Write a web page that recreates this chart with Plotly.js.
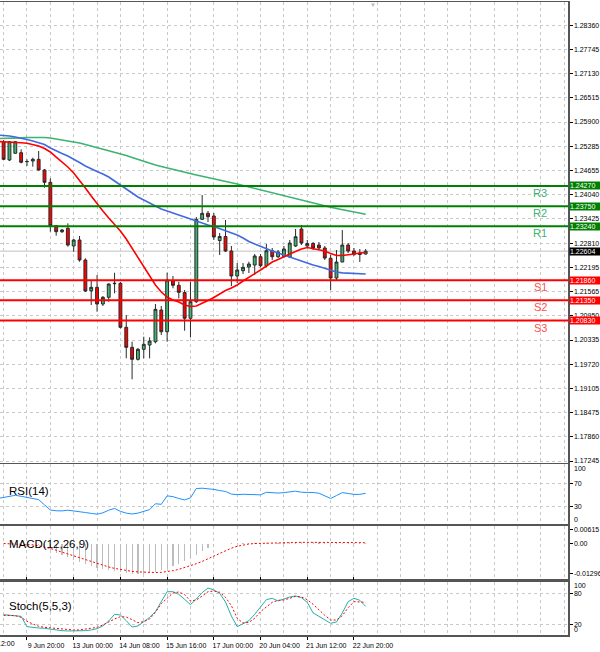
<!DOCTYPE html>
<html>
<head>
<meta charset="utf-8">
<script src="https://cdn.plot.ly/plotly-3.0.1.min.js"></script>
<style>html,body{margin:0;padding:0;background:#fff;}#chart{width:600px;height:652px;}</style>
</head>
<body>
<div id="chart"></div>
<script>
// ---------- DATA ----------
// candle index 0..62 (H4 bars)
const openP  = [1.25398,1.24931,1.25102,1.25117,1.24887,1.24905,1.24948,1.24675,1.24361,1.23253,1.23100,1.23187,1.22735,1.22888,1.22377,1.21593,1.21680,1.21254,1.21425,1.21772,1.21782,1.20659,1.20148,1.19842,1.20097,1.20207,1.20291,1.21101,1.20546,1.21849,1.21731,1.21547,1.20889,1.21312,1.23416,1.23570,1.23501,1.22875,1.22977,1.22607,1.21969,1.22104,1.22198,1.22250,1.22461,1.22232,1.22615,1.22461,1.22467,1.22454,1.22735,1.23169,1.22735,1.22799,1.22760,1.22684,1.22421,1.21918,1.22326,1.22760,1.22607,1.22556,1.22530];
const highP  = [1.25441,1.25416,1.25416,1.25204,1.24948,1.24989,1.25160,1.24700,1.24463,1.23271,1.23169,1.23314,1.22913,1.22990,1.22421,1.21867,1.21994,1.21458,1.21782,1.22053,1.21815,1.20973,1.20291,1.20130,1.20419,1.20403,1.21254,1.21203,1.22053,1.21969,1.21823,1.21611,1.21823,1.23475,1.24037,1.23628,1.23577,1.23067,1.23399,1.22735,1.22301,1.22301,1.22334,1.22530,1.22530,1.22786,1.22684,1.22633,1.22735,1.22888,1.23169,1.23271,1.22888,1.22837,1.22837,1.22735,1.22505,1.22633,1.23143,1.22811,1.22684,1.22658,1.22658];
const lowP   = [1.24931,1.24905,1.25097,1.24846,1.24777,1.24760,1.24657,1.24223,1.23100,1.22998,1.23067,1.22717,1.22589,1.22334,1.21560,1.21228,1.21057,1.21203,1.21312,1.21527,1.20628,1.19867,1.19331,1.19811,1.19867,1.19867,1.20250,1.20462,1.20291,1.21655,1.21399,1.20572,1.20403,1.21279,1.23399,1.23348,1.22888,1.22505,1.22581,1.21713,1.21790,1.22020,1.22045,1.21994,1.22191,1.22191,1.22377,1.22428,1.22428,1.22428,1.22709,1.22760,1.22684,1.22633,1.22633,1.22377,1.21611,1.21867,1.22326,1.22556,1.22479,1.22326,1.22518];
const closeP = [1.24948,1.25398,1.25398,1.24872,1.24892,1.24948,1.24675,1.24361,1.23253,1.23100,1.23143,1.22760,1.22888,1.22377,1.21586,1.21680,1.21254,1.21425,1.21764,1.21782,1.20659,1.20148,1.19842,1.20097,1.20225,1.20309,1.21118,1.20546,1.21867,1.21731,1.21552,1.20889,1.21312,1.23416,1.23570,1.23483,1.22964,1.22977,1.22607,1.21969,1.22122,1.22191,1.22275,1.22479,1.22232,1.22615,1.22461,1.22581,1.22658,1.22811,1.22972,1.22811,1.22799,1.22684,1.22684,1.22428,1.21918,1.22326,1.22760,1.22607,1.22523,1.22518,1.22604];

// moving averages, index -1..62
const maFast = [1.25403,1.25398,1.25390,1.25383,1.25372,1.25357,1.25326,1.25288,1.25224,1.25135,1.25007,1.24880,1.24752,1.24599,1.24420,1.24216,1.24011,1.23807,1.23628,1.23450,1.23296,1.23118,1.22913,1.22684,1.22454,1.22224,1.21969,1.21739,1.21560,1.21432,1.21356,1.21305,1.21228,1.21190,1.21203,1.21266,1.21343,1.21420,1.21509,1.21598,1.21662,1.21739,1.21841,1.21930,1.22020,1.22122,1.22224,1.22326,1.22390,1.22467,1.22530,1.22594,1.22658,1.22696,1.22671,1.22645,1.22607,1.22543,1.22492,1.22492,1.22505,1.22530,1.22556,1.22569];
const maMid  = [1.25569,1.25561,1.25543,1.25518,1.25492,1.25454,1.25416,1.25377,1.25326,1.25237,1.25160,1.25097,1.25033,1.24956,1.24867,1.24777,1.24701,1.24637,1.24573,1.24497,1.24394,1.24292,1.24177,1.24075,1.23986,1.23909,1.23833,1.23756,1.23679,1.23628,1.23577,1.23526,1.23462,1.23411,1.23373,1.23322,1.23271,1.23233,1.23181,1.23130,1.23067,1.23016,1.22939,1.22850,1.22786,1.22722,1.22658,1.22607,1.22556,1.22505,1.22441,1.22390,1.22352,1.22301,1.22250,1.22211,1.22160,1.22109,1.22071,1.22050,1.22040,1.22032,1.22025,1.22020];
const maSlow = [1.25480,1.25480,1.25485,1.25492,1.25497,1.25505,1.25510,1.25510,1.25505,1.25492,1.25467,1.25441,1.25428,1.25403,1.25365,1.25326,1.25288,1.25250,1.25211,1.25173,1.25135,1.25097,1.25045,1.24994,1.24943,1.24892,1.24846,1.24803,1.24765,1.24726,1.24688,1.24650,1.24611,1.24581,1.24548,1.24514,1.24484,1.24451,1.24420,1.24382,1.24348,1.24318,1.24279,1.24241,1.24203,1.24165,1.24126,1.24088,1.24050,1.24011,1.23973,1.23935,1.23902,1.23866,1.23833,1.23794,1.23756,1.23723,1.23692,1.23659,1.23628,1.23595,1.23570,1.23544];

// RSI(14), index -1..62
const rsi = [44,46,48.5,49.4,47.7,46,44.5,42,33,24.3,23,22.8,24,23,21.6,20,18.5,17.2,19.5,24,27,22,19,17.5,19,22,25,35,34,48.5,47.1,44,41.5,45,61,61.5,61,59.5,57.5,56,51.5,50.5,51.2,51,50.5,50.2,54.6,53.5,53.2,54,55,56.5,54.6,54.6,54.2,53,48,44,49,54,52.5,51,51,52.9];

// MACD(12,26,9), index 0..62
const macdMain = [-0.0002,-0.0003,-0.0003,-0.0004,-0.0004,-0.0005,-0.0008,-0.0014,-0.0027,-0.0040,-0.0051,-0.0060,-0.0071,-0.0080,-0.0090,-0.0098,-0.0105,-0.0111,-0.0115,-0.0118,-0.0122,-0.0126,-0.0129,-0.012968,-0.0129,-0.01275,-0.0122,-0.0114,-0.0105,-0.0097,-0.0088,-0.0077,-0.0064,-0.0048,-0.0034,-0.0021,-0.0010,-0.0004,-0.0001,0.0001,0.0002,0.0002,0.0003,0.0003,0.0003,0.0004,0.0004,0.0004,0.0005,0.0005,0.0005,0.0006,0.0006,0.0005,0.0005,0.0004,0.0003,0.0003,0.0004,0.0004,0.0003,0.0003,0.0003];
const macdSignal = [0.0000,-0.0001,-0.0002,-0.0003,-0.0004,-0.0006,-0.0010,-0.0015,-0.0021,-0.0029,-0.0037,-0.0046,-0.0055,-0.0063,-0.0071,-0.0079,-0.0087,-0.0094,-0.0101,-0.0107,-0.0112,-0.0117,-0.0120,-0.0122,-0.0124,-0.0125,-0.0125,-0.0124,-0.0121,-0.0117,-0.0111,-0.0104,-0.0096,-0.0087,-0.0077,-0.0066,-0.0054,-0.0041,-0.0030,-0.0020,-0.0012,-0.0006,-0.0002,0.0000,0.0001,0.0002,0.0003,0.0003,0.0004,0.0004,0.0005,0.0005,0.0005,0.0005,0.0006,0.0006,0.0006,0.0007,0.0006,0.0006,0.0005,0.0004,0.0003];

// Stoch(5,5,3), index 0..62
const stochMain = [38.5,37.6,36.6,35.3,15.3,13.4,12.8,12.1,10.2,8.9,7.6,7,7,7,7.6,8.9,11.5,16.6,26.3,39.2,37.9,26.9,14.7,16.6,25,33.4,44.4,63.7,83,83,77.9,68.2,57.9,68.9,81.1,90.1,86.3,79.8,63,36,15.3,21.1,26.9,39.2,54,67.6,70.2,65,68.9,72.7,74.7,71.4,62.4,41.8,35.3,28.2,21.8,24.4,41.8,63.7,70.2,66.3,54.7];
const stochSignal = [37.3,36.9,36.6,33.4,25.7,20.5,16,14.1,12.8,11.5,10.2,8.9,8.9,8.9,10.2,11.5,14.1,18.6,25,30.2,34.7,34,28.9,23.1,25,30.2,43.1,59.8,70.2,80.5,82.4,77.2,65,66.9,74.7,83,84.3,81.8,72.1,56,31.5,22.4,23.7,31.5,44.4,54,62.4,66.3,66.9,70.2,74,72.7,67.6,58.5,46.9,37.3,28.2,28.2,36.6,52.1,63.7,63.7,62.4];

// levels
const levelNames  = ['R3','R2','R1','S1','S2','S3'];
const levelValues = [1.24270,1.23750,1.23240,1.21860,1.21350,1.20830];
const lastPrice = 1.22604;

// axis ticks
const priceTicks = [1.28360,1.27745,1.27130,1.26515,1.25900,1.25285,1.24655,1.24040,1.23425,1.22810,1.22195,1.21565,1.20950,1.20335,1.19720,1.19105,1.18475,1.17860,1.17245];
const timeTickIdx = [4,12,20,28,36,44,52,60];
const timeTickLabels = ['9 Jun 20:00','13 Jun 00:00','14 Jun 08:00','15 Jun 16:00','17 Jun 00:00','20 Jun 04:00','21 Jun 12:00','22 Jun 20:00'];
const firstTimeIdx = -4, firstTimeLabel = '8 Jun 12:00';
// indicator scales: gridded levels and the edge labels (drawn inset, as in the terminal)
const rsiGrid = [70,30];
const rsiEdge = [{text:'100', at:94.4},{text:'0', at:7.3}];
const macdTicks = [0.00615,0,-0.012968];
const macdTickText = ['0.00615','0.00','-0.012968'];
const stochGrid = [80,20];
const stochEdge = [{text:'100', at:94},{text:'0', at:8.9}];

// ---------- BUILD ----------
const xc = openP.map((_, i) => i);
const xm = maFast.map((_, i) => i - 1);
const xRange = [-0.62, 96.65];

const GRID = '#c9c9c9', FRAME = '#555555', FONT = 'Liberation Sans, Arial, sans-serif';

const traces = [
  {type:'candlestick', x:xc, open:openP, high:highP, low:lowP, close:closeP, xaxis:'x', yaxis:'y',
   increasing:{fillcolor:'#3cb371', line:{color:'#2a2a2a', width:1}},
   decreasing:{fillcolor:'#ff0000', line:{color:'#2a2a2a', width:1}},
   whiskerwidth:0, hoverinfo:'skip'},
  {type:'scatter', mode:'lines', x:xm, y:maSlow, line:{color:'#3cb371', width:1.6}, yaxis:'y', hoverinfo:'skip'},
  {type:'scatter', mode:'lines', x:xm, y:maMid, line:{color:'#4169e1', width:1.6}, yaxis:'y', hoverinfo:'skip'},
  {type:'scatter', mode:'lines', x:xm, y:maFast, line:{color:'#ff0000', width:1.6}, yaxis:'y', hoverinfo:'skip'},
  {type:'scatter', mode:'lines', x:xm, y:rsi, line:{color:'#1e90ff', width:1}, yaxis:'y2', hoverinfo:'skip'},
  {type:'bar', x:xc, y:macdMain, width:0.2, marker:{color:'#bdbdbd', line:{width:0}}, yaxis:'y3', hoverinfo:'skip'},
  {type:'scatter', mode:'lines', x:xc, y:macdSignal, line:{color:'#ff0000', width:1, dash:'2px,2px'}, yaxis:'y3', hoverinfo:'skip'},
  {type:'scatter', mode:'lines', x:xc, y:stochMain, line:{color:'#20b2aa', width:1}, yaxis:'y4', hoverinfo:'skip'},
  {type:'scatter', mode:'lines', x:xc, y:stochSignal, line:{color:'#ff0000', width:1, dash:'2px,2px'}, yaxis:'y4', hoverinfo:'skip'}
];

const shapes = [];
const annotations = [];
levelValues.forEach((v, i) => {
  const isR = levelNames[i][0] === 'R';
  shapes.push({type:'line', xref:'paper', yref:'y', x0:0, x1:1, y0:v, y1:v, line:{color:isR?'#008000':'#ff0000', width:2}});
  annotations.push({xref:'paper', yref:'y', x:0.951, y:v, yanchor:'top', xanchor:'center', yshift:1,
    text:levelNames[i], showarrow:false, font:{family:FONT, size:11, color:isR?'#3cb371':'#ff5050'}});
  annotations.push({xref:'paper', yref:'y', x:1, y:v, xanchor:'left', yanchor:'middle', xshift:1,
    text:v.toFixed(5), showarrow:false, bgcolor:isR?'#008000':'#ff0000', width:30, align:'left', borderpad:0,
    font:{family:FONT, size:7, color:'#ffffff'}});
});
shapes.push({type:'line', xref:'paper', yref:'y', x0:0, x1:1, y0:lastPrice, y1:lastPrice, line:{color:'#c0c0c0', width:1}, layer:'below'});
annotations.push({xref:'paper', yref:'y', x:1, y:lastPrice, xanchor:'left', yanchor:'middle', xshift:1,
  text:lastPrice.toFixed(5), showarrow:false, bgcolor:'#000000', width:30, align:'left', borderpad:0,
  font:{family:FONT, size:7, color:'#ffffff'}});

// inset edge labels of the RSI and Stoch scales
[[rsiEdge,'y2'],[stochEdge,'y4']].forEach(([arr, ax]) => arr.forEach(e => {
  annotations.push({xref:'paper', yref:ax, x:1, y:e.at, xanchor:'left', yanchor:'middle', xshift:4,
    text:e.text, showarrow:false, font:{family:FONT, size:7, color:'#000'}});
}));

// indicator titles
[['RSI(14)', 'y2 domain', 0.55], ['MACD(12,26,9)', 'y3 domain', 0.67], ['Stoch(5,5,3)', 'y4 domain', 0.54]].forEach(t => {
  annotations.push({xref:'paper', yref:t[1], x:0.012, y:t[2], xanchor:'left', yanchor:'middle', text:t[0], showarrow:false,
    font:{family:FONT, size:11.5, color:'#000'}});
});
// first (cut-off) time label, placed on the time scale left of the visible range
annotations.push({xref:'paper', yref:'paper', x:(firstTimeIdx - xRange[0]) / (xRange[1] - xRange[0]), y:0,
  xanchor:'left', yanchor:'top', xshift:-4, yshift:-3,
  text:firstTimeLabel, showarrow:false, font:{family:FONT, size:7, color:'#000'}});
// chart shift marker
annotations.push({xref:'paper', yref:'paper', x:0.657, y:1, xanchor:'center', yanchor:'top', yshift:2,
  text:'\u25BC', showarrow:false, font:{size:6, color:'#b8b8b8'}});

const yCommon = {side:'right', anchor:'x', showline:true, mirror:true, linecolor:FRAME, linewidth:1.5,
  ticks:'outside', ticklen:3, tickcolor:'#000', tickfont:{family:FONT, size:7, color:'#000'},
  showgrid:true, gridcolor:GRID, griddash:'3px,3px', zeroline:false, fixedrange:true, automargin:false};

const layout = {
  width:600, height:652,
  margin:{l:0, r:32, t:2, b:17},
  paper_bgcolor:'#ffffff', plot_bgcolor:'#ffffff',
  showlegend:false, hovermode:false,
  font:{family:FONT, size:7, color:'#000'},
  bargap:0,
  xaxis:{range:xRange, anchor:'y4', tickmode:'array', tickvals:timeTickIdx, ticktext:timeTickLabels,
    ticks:'outside', ticklen:3, tickcolor:'#000', tickfont:{family:FONT, size:7, color:'#000'}, ticklabelshift:19,
    showgrid:true, gridcolor:GRID, griddash:'3px,3px',
    minor:{tickmode:'linear', tick0:0, dtick:4, showgrid:true, gridcolor:GRID, griddash:'3px,3px', ticks:''},
    showline:true, mirror:'all', linecolor:FRAME, linewidth:1.5, zeroline:false, fixedrange:true,
    rangeslider:{visible:false}, automargin:false},
  yaxis:Object.assign({}, yCommon, {domain:[0.2725, 1], range:[1.17207, 1.28965], tickmode:'array',
    tickvals:priceTicks, ticktext:priceTicks.map(v => v.toFixed(5))}),
  yaxis2:Object.assign({}, yCommon, {domain:[0.1749, 0.2694], range:[-0.1, 102.1], tickmode:'array', tickvals:rsiGrid, ticktext:rsiGrid.map(String)}),
  yaxis3:Object.assign({}, yCommon, {domain:[0.0880, 0.1717], range:[-0.01539, 0.0074], tickmode:'array', tickvals:macdTicks, ticktext:macdTickText, showgrid:false}),
  yaxis4:Object.assign({}, yCommon, {domain:[0, 0.0842], range:[-0.8, 102.3], tickmode:'array', tickvals:stochGrid, ticktext:stochGrid.map(String)}),
  shapes:shapes,
  annotations:annotations
};

Plotly.newPlot('chart', traces, layout, {staticPlot:true, displayModeBar:false});
</script>
</body>
</html>
